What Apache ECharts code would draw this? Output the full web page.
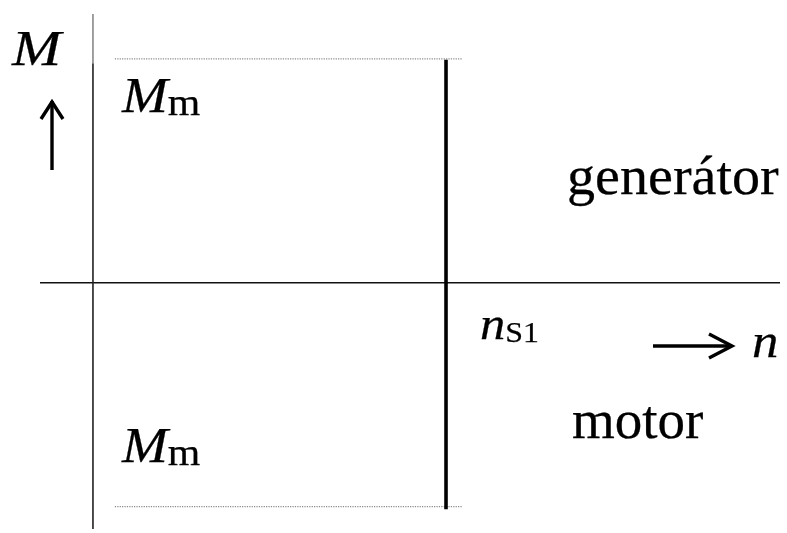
<!DOCTYPE html>
<html>
<head>
<meta charset="utf-8">
<title>M–n characteristic</title>
<script src="https://cdn.jsdelivr.net/npm/echarts@6/dist/echarts.min.js"></script>
<style>
  html, body { margin: 0; padding: 0; background: #fff; }
  #chart { width: 787px; height: 533px; }
</style>
</head>
<body>
<div id="chart"></div>
<script>
// Normalised speed n (nS1 = 1) and torque M (Mm = 1)
const xRange = [-0.15, 1.946];
const yRange = [-1.1, 1.2];
const nS1 = 1;
const Mm = 1;
// Extent of the synchronous-speed line and the ±Mm limit lines
const syncLine = [[nS1, -1.012], [nS1, 0.996]];
const limitStart = 0.062;
const limitEnd = 1.045;
const topLimit = [[limitStart, Mm], [limitEnd, Mm]];
const bottomLimit = [[limitStart, -Mm], [limitEnd, -Mm]];
const nAxis = [[xRange[0], 0], [xRange[1], 0]];
const mAxisLower = [[0, yRange[0]], [0, 0.98]];
const mAxisUpper = [[0, 0.98], [0, yRange[1]]];

const SERIF = '"Liberation Serif", "Times New Roman", serif';
const INK_WIDTH = 0.25;

const chart = echarts.init(document.getElementById('chart'), null, { renderer: 'canvas' });

function seg(data, color, width, type) {
  return {
    type: 'line', data: data, symbol: 'none', silent: true, animation: false,
    lineStyle: { color: color, width: width, type: type || 'solid', cap: 'butt' }
  };
}

// Text placed by its top-left corner, slightly widened like the printed figure
function label(x, y, style, sx) {
  return {
    type: 'text', x: x, y: y, scaleX: sx || 1, originX: 0, originY: 0,
    style: Object.assign({
      x: 0, y: 0, align: 'left', verticalAlign: 'top',
      fill: '#000', stroke: '#000', lineWidth: INK_WIDTH
    }, style)
  };
}

function subscripted(main, sub, mainFont, subFont, drop) {
  return {
    text: '{a|' + main + '}{b|' + sub + '}',
    rich: {
      a: { font: mainFont, fill: '#000', stroke: '#000', lineWidth: INK_WIDTH },
      b: { font: subFont, fill: '#000', stroke: '#000', lineWidth: INK_WIDTH, padding: [drop, 0, 0, 0] }
    }
  };
}

const ARROW = { stroke: '#000', lineWidth: 3.4, fill: null };

chart.setOption({
  animation: false,
  backgroundColor: '#fff',
  grid: { left: 40, right: 7, top: 14, bottom: 4 },
  xAxis: {
    type: 'value', min: xRange[0], max: xRange[1],
    axisLine: { show: false }, axisTick: { show: false },
    axisLabel: { show: false }, splitLine: { show: false }
  },
  yAxis: {
    type: 'value', min: yRange[0], max: yRange[1],
    axisLine: { show: false }, axisTick: { show: false },
    axisLabel: { show: false }, splitLine: { show: false }
  },
  series: [
    seg(nAxis, '#111', 1.6),
    seg(mAxisLower, '#222', 1.6),
    seg(mAxisUpper, '#888', 1.6),
    seg(topLimit, '#8a8a8a', 1.2, 'dotted'),
    seg(bottomLimit, '#8a8a8a', 1.2, 'dotted'),
    seg(syncLine, '#000', 3.6)
  ],
  graphic: [
    // axis label M with arrow
    label(12, 27, { text: 'M', font: 'italic 50px ' + SERIF }, 1.18),
    { type: 'line', shape: { x1: 52, y1: 101, x2: 52, y2: 170 }, style: ARROW },
    { type: 'polyline', shape: { points: [[41, 119], [52, 102], [63, 119]] }, style: ARROW },
    // axis label n with arrow
    { type: 'line', shape: { x1: 653, y1: 346, x2: 732, y2: 346 }, style: ARROW },
    { type: 'polyline', shape: { points: [[709, 334], [732, 346], [709, 358]] }, style: ARROW },
    label(752, 320, { text: 'n', font: 'italic 48px ' + SERIF }, 1.1),
    // Mm labels
    label(122, 74, subscripted('M', 'm', 'italic 50px ' + SERIF, '38px ' + SERIF, 12), 1.1),
    label(122, 424, subscripted('M', 'm', 'italic 50px ' + SERIF, '38px ' + SERIF, 12), 1.1),
    // nS1 label
    label(480, 304, subscripted('n', 'S1', 'italic 46px ' + SERIF, '29px ' + SERIF, 14), 1.1),
    // operating-mode labels
    label(567, 152, { text: 'generátor', font: '55px ' + SERIF }, 1.02),
    label(572, 396, { text: 'motor', font: '55px ' + SERIF }, 1.0)
  ]
});
</script>
</body>
</html>
